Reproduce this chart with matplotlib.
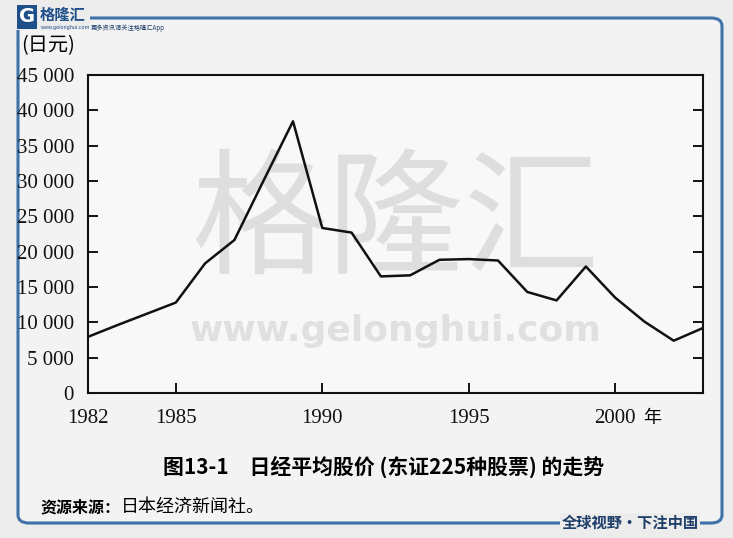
import matplotlib
matplotlib.use("Agg")
import matplotlib.pyplot as plt
from matplotlib.patches import FancyBboxPatch, Rectangle

# ─── 数据（从图上读取的年末日经平均股价，日元）──────────────────────────────
years = [1982, 1983, 1984, 1985, 1986, 1987, 1988, 1989, 1990, 1991, 1992,
         1993, 1994, 1995, 1996, 1997, 1998, 1999, 2000, 2001, 2002, 2003]
nikkei = [7950, 9600, 11200, 12800, 18350, 21650, 30100, 38450, 23350, 22700,
          16500, 16650, 18850, 18950, 18750, 14300, 13100, 17900, 13500, 10100,
          7400, 9200]

y_ticks = [0, 5000, 10000, 15000, 20000, 25000, 30000, 35000, 40000, 45000]
y_tick_labels = ["0", "5 000", "10 000", "15 000", "20 000", "25 000",
                 "30 000", "35 000", "40 000", "45 000"]
x_ticks = [1982, 1985, 1990, 1995, 2000]
x_tick_labels = ["1982", "1985", "1990", "1995", "2000"]

CJK = ["Noto Sans CJK SC", "DejaVu Sans"]
SERIF = ["Liberation Serif", "DejaVu Serif"]
FRAME_BLUE = "#3f72a8"

fig = plt.figure(figsize=(7.33, 5.38), dpi=100, facecolor="#ececec")

# ─── 背景框 ──────────────────────────────────────────────────────────────────
frame = FancyBboxPatch((18 / 733, 1 - 523 / 538), (722 - 18) / 733, (523 - 18) / 538,
                       boxstyle="round,pad=0,rounding_size=0.015",
                       transform=fig.transFigure, fill=True, facecolor="#f3f3f3",
                       edgecolor=FRAME_BLUE, linewidth=2.2, zorder=-2)
fig.patches.append(frame)

# 左上角 logo
fig.patches.append(Rectangle((14 / 733, 1 - 30 / 538), 76 / 733, 28 / 538,
                             transform=fig.transFigure, facecolor="#ececec",
                             edgecolor="none", zorder=-1))
fig.text(27 / 733, 1 - 17 / 538, "G", fontsize=14, fontweight="bold", color="white",
         ha="center", va="center", family=["DejaVu Sans"],
         bbox=dict(boxstyle="square,pad=0.12", facecolor="#1f4f8a", edgecolor="none"))
fig.text(40 / 733, 1 - 15 / 538, "格隆汇", fontsize=11, fontweight="bold",
         color="#1f4f8a", ha="left", va="center", family=CJK)
fig.text(41 / 733, 1 - 27 / 538, "www.gelonghui.com", fontsize=3.5,
         color="#1f4f8a", ha="left", va="center")
fig.text(91 / 733, 1 - 28 / 538, "更多资讯请关注格隆汇App", fontsize=4.5,
         color="#1f3f6a", ha="left", va="center", family=CJK)

# 右下角标语
fig.text(630 / 733, 1 - 523 / 538, "全球视野・下注中国", fontsize=11, fontweight="bold",
         color="#1f3f6a", ha="center", va="center", family=CJK,
         bbox=dict(boxstyle="square,pad=0.1", facecolor="#ececec", edgecolor="none"))

# ─── 主图 ────────────────────────────────────────────────────────────────────
ax = fig.add_axes([88 / 733, 1 - 393 / 538, (703 - 88) / 733, (393 - 75) / 538])
ax.set_zorder(2)
ax.set_facecolor("#f8f8f8")
ax.plot(years, nikkei, color="#111111", linewidth=1.8, zorder=3)

ax.set_xlim(1982, 2003)
ax.set_ylim(0, 45000)
ax.set_xticks(x_ticks[1:])
ax.set_xticklabels([])
ax.set_yticks(y_ticks)
ax.set_yticklabels(y_tick_labels, family=SERIF, fontsize=15, color="#111111")
ax.tick_params(axis="y", direction="in", length=7, width=1.3, left=True, right=True,
               pad=10)
ax.tick_params(axis="x", direction="in", length=7, width=1.3, pad=6)
for s in ax.spines.values():
    s.set_linewidth(1.5)
    s.set_color("#111111")

# x 轴标签（含 1982 起点）
for xv, lab in zip(x_ticks, x_tick_labels):
    ax.text(xv, -2300, lab, ha="center", va="top", family=SERIF, fontsize=15,
            color="#111111", clip_on=False)
ax.text(2001.25, -2300, "年", ha="center", va="top", family=CJK, fontsize=13,
        clip_on=False)

# 水印
ax.text(0.5, 0.53, "格隆汇", transform=ax.transAxes, ha="center", va="center",
        fontsize=98, color="#dedede", family=CJK, zorder=1)
ax.text(0.5, 0.195, "www.gelonghui.com", transform=ax.transAxes, ha="center",
        va="center", fontsize=26, fontweight="bold", color="#e0e0e0", zorder=1)

# 单位
fig.text(21 / 733, 1 - 46 / 538, "(日元)", fontsize=14.5, ha="left", va="center",
         family=CJK)

# 图题与来源
fig.text(384 / 733, 1 - 467 / 538, "图13-1　日经平均股价 (东证225种股票) 的走势",
         fontsize=15, fontweight="bold", ha="center", va="center", family=CJK)
fig.text(40 / 733, 1 - 507 / 538, "资源来源：", fontsize=11.5, fontweight="bold",
         ha="left", va="center", family=CJK)
fig.text(121 / 733, 1 - 507 / 538, "日本经济新闻社。", fontsize=13,
         ha="left", va="center", family=CJK)

fig.savefig("out.png", dpi=100, facecolor=fig.get_facecolor())
